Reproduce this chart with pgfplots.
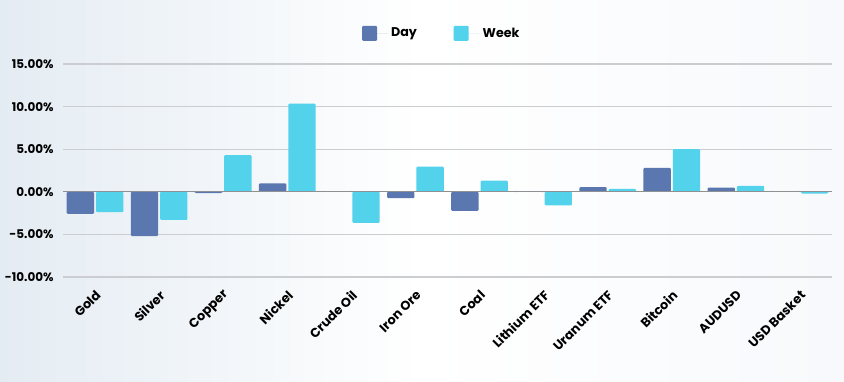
\documentclass[border=0pt]{standalone}
\usepackage{pgfplots}
\pgfplotsset{compat=1.18}
\usepackage{fontspec}
\setmainfont{Poppins}
\definecolor{dayc}{HTML}{5A78AF}
\definecolor{weekc}{HTML}{52D2EB}
\definecolor{bgl}{HTML}{E4ECF3}
\definecolor{bgm}{HTML}{F7F9FC}
\definecolor{gridc}{HTML}{CBCDD0}
\definecolor{zeroc}{HTML}{8E9094}
\begin{document}
\begin{tikzpicture}
\shade[left color=bgl, right color=bgm, middle color=white] (0pt,0pt) rectangle (633pt,286.5pt);
\begin{axis}[
  at={(47.25pt,78.75pt)}, anchor=south west,
  scale only axis, width=576.75pt, height=159.75pt,
  ybar=1.5pt, bar width=20.5pt,
  xmin=-0.5, xmax=11.5, ymin=-10, ymax=15,
  axis line style={draw=none},
  major tick length=0pt,
  ymajorgrids, grid style={color=gridc, line width=0.8pt},
  ytick={-10,-5,0,5,10,15},
  yticklabels={-10.00\%,-5.00\%,0.00\%,5.00\%,10.00\%,15.00\%},
  yticklabel style={font=\fontsize{9}{10}\selectfont\bfseries, xshift=-3.5pt},
  xtick={0,...,11},
  xticklabels={Gold,Silver,Copper,Nickel,Crude Oil,Iron Ore,Coal,Lithium ETF,Uranum ETF,Bitcoin,AUDUSD,USD Basket},
  xticklabel style={font=\fontsize{9.6}{11}\selectfont\bfseries, xshift=4.8pt, yshift=-9.5pt, rotate=45, anchor=east},
  legend columns=2,
  legend style={at={(0.493,1)}, anchor=center, yshift=23pt, draw=none, fill=none,
    font=\fontsize{9.5}{11}\selectfont\bfseries,
    /tikz/every even column/.append style={column sep=25.5pt}},
  legend image code/.code={\fill[#1] (0pt,-5.6pt) rectangle (11.3pt,5.6pt); \path (0pt,0pt) -- (19.8pt,0pt);},
]
\addplot[fill=dayc, draw=none, rounded corners=0.8pt] coordinates {(0,-2.6) (1,-5.2) (2,-0.15) (3,1.0) (4,0) (5,-0.75) (6,-2.25) (7,0.05) (8,0.55) (9,2.8) (10,0.5) (11,0)};
\addlegendentry{Day}
\addplot[fill=weekc, draw=none, rounded corners=0.8pt] coordinates {(0,-2.4) (1,-3.3) (2,4.3) (3,10.35) (4,-3.65) (5,2.95) (6,1.3) (7,-1.6) (8,0.35) (9,5.0) (10,0.7) (11,-0.2)};
\addlegendentry{Week}
\draw[zeroc, line width=0.8pt] (axis cs:-0.5,0) -- (axis cs:11.5,0);
\end{axis}
\end{tikzpicture}
\end{document}
